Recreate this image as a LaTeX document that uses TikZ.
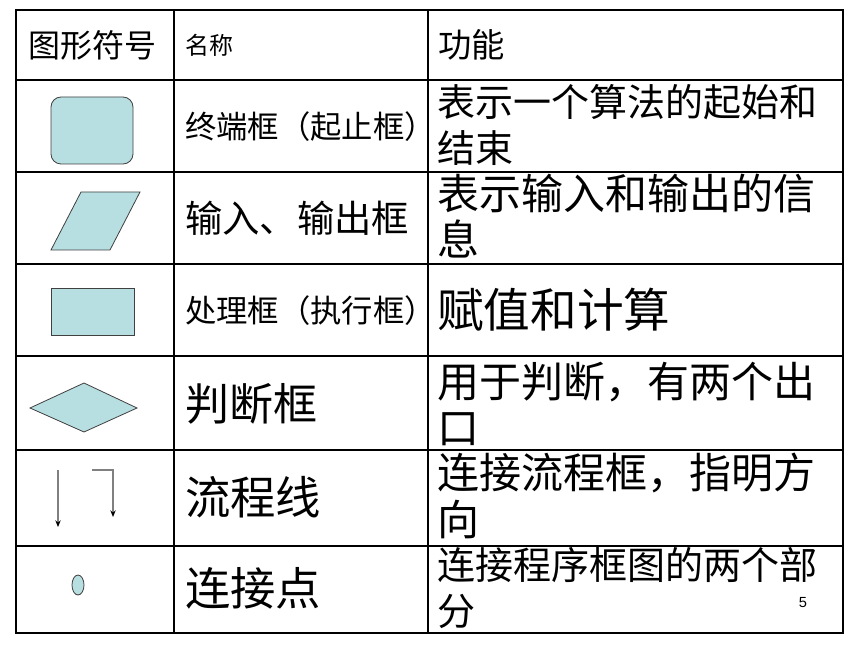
\documentclass[tikz,border=0pt]{standalone}
\usepackage{fontspec}
\usepackage{tikz}
\usetikzlibrary{arrows.meta, positioning}
\newfontfamily\cjk{Noto Sans CJK SC}
\newfontfamily\latin{Liberation Sans}
\definecolor{symfill}{HTML}{B7DEE0}
\definecolor{symedge}{HTML}{404040}
\tikzset{
  symbol/.style={
    fill=symfill,
    draw=symedge,
    line width=0.6pt
  },
  cell/.style={
    anchor=west,
    inner sep=0pt,
    align=left,
    font=\cjk\fontsize{#1}{35pt}\selectfont
  },
  gridline/.style={draw=black, line width=0.8pt},
  frame/.style={draw=black, line width=1.8pt},
  arrow/.style={draw=gray, line width=0.8pt, -{Stealth[black, length=5pt, width=4pt]}}
}
\begin{document}
\begin{tikzpicture}[x=0.75pt, y=-0.75pt]
  \useasboundingbox (0,0) rectangle (860,645);
  % table rules
  \foreach \y in {80,172,264,356,450,546}
    \draw[gridline] (16,\y) -- (843,\y);
  \foreach \x in {174,428}
    \draw[gridline] (\x,10) -- (\x,633);
  \draw[frame] (16,10) rectangle (843,633);

  % header
  \node (head1) [cell=24pt] at (28,45) {图形符号};
  \node (head2) [cell=18pt] at (185,45) {名称};
  \node (head3) [cell=25pt] at (438,45) {功能};

  % symbols
  \draw[symbol, rounded corners=7.5pt] (51,97) rectangle (133,164);
  \draw[symbol] (51,250) -- (110,250) -- (140,192) -- (81,192) -- cycle;
  \draw[symbol] (51,288) rectangle (134,335);
  \draw[symbol] (30,408) -- (84,383) -- (137,408) -- (84,432) -- cycle;
  \coordinate (lineA) at (58,470);
  \coordinate (lineAend) at (58,527);
  \coordinate (lineB) at (92,470);
  \coordinate (lineBend) at (113,517);
  \draw[arrow] (lineA) -- (lineAend);
  \draw[arrow] (lineB) -| (lineBend);
  \draw[symbol] (78,585) ellipse [x radius=6, y radius=10];

  % names
  \node (term) [cell=23.5pt] at (185,127) {终端框（起止框）};
  \node (io) [cell=28pt] at (185,218) {输入、输出框};
  \node (proc) [cell=23.5pt] at (185,311) {处理框（执行框）};
  \node (dec) [cell=33pt] at (185,404) {判断框};
  \node (flow) [cell=34pt] at (185,497) {流程线};
  \node (conn) [cell=34pt] at (185,588) {连接点};

  % functions
  \node (termf) [cell=28.5pt] at (437,125) {表示一个算法的起始和\\结束};
  \node (iof) [cell=31.5pt] at (437,216) {表示输入和输出的信\\息};
  \node (procf) [cell=35pt] at (437,310) {赋值和计算};
  \node (decf) [cell=31.5pt] at (437,404) {用于判断，有两个出\\口};
  \node (flowf) [cell=31.5pt] at (437,496) {连接流程框，指明方\\向};
  \node (connf) [cell=28.5pt] at (437,588) {连接程序框图的两个部\\分};

  \node (page) [font=\latin\fontsize{11pt}{11pt}\selectfont] at (803,603) {5};
\end{tikzpicture}
\end{document}
